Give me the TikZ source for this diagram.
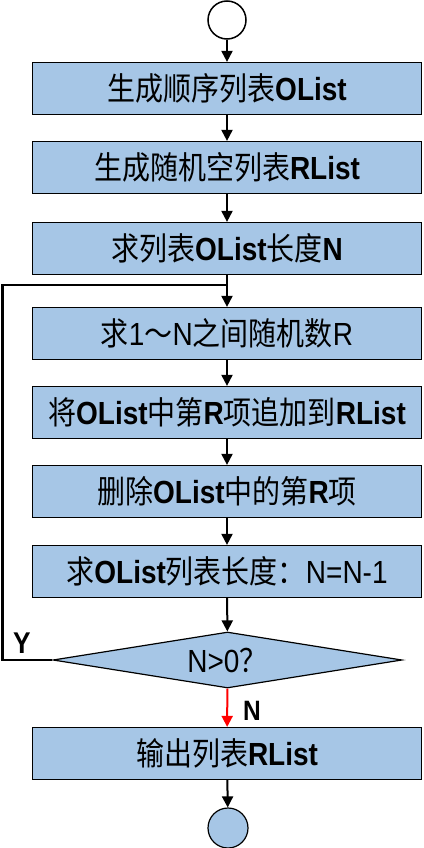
\documentclass[tikz,border=0pt]{standalone}
\usepackage{xcolor}
\usepackage{fontspec}
\setmainfont{Liberation Sans}[FakeStretch=0.875]
\newfontfamily\cjk{Noto Sans CJK SC}[FakeStretch=0.875]
\usepackage{tikz}
\usetikzlibrary{arrows.meta,shapes.geometric}

\definecolor{boxblue}{RGB}{166,198,230}
\newcommand{\zh}[1]{{\cjk #1}}

\begin{document}
\begin{tikzpicture}[x=1pt, y=-1pt,
  every node/.style={font=\fontsize{32}{36}\selectfont},
  stepbox/.style={draw=black, line width=1.2pt, fill=boxblue, minimum width=389pt, minimum height=52pt, inner sep=0pt},
  arrow/.style={line width=2pt, -{Triangle[length=11pt,width=11pt]}},
  loopline/.style={line width=2.5pt}]

\useasboundingbox (0,0) rectangle (423,848);

% Start and end circles
\node[circle, draw=black, line width=1.5pt, fill=white, minimum size=38pt, inner sep=0pt] (start) at (227,20) {};
\node[circle, draw=black, line width=1.2pt, fill=boxblue, minimum size=40pt, inner sep=0pt] (stop) at (228,828) {};

% The steps
\node[stepbox] (genolist) at (227,88.5) {\zh{生成顺序列表}\textbf{OList}};
\node[stepbox] (genrlist) at (227,167.5) {\zh{生成随机空列表}\textbf{RList}};
\node[stepbox] (getlen) at (227,248.5) {\zh{求列表}\textbf{OList}\zh{长度}\textbf{N}};
\node[stepbox] (randr) at (227,333.5) {\zh{求}1\zh{～}N\zh{之间随机数}R};
\node[stepbox] (append) at (227,412.5) {\zh{将}\textbf{OList}\zh{中第}\textbf{R}\zh{项追加到}\textbf{RList}};
\node[stepbox] (remove) at (227,491.5) {\zh{删除}\textbf{OList}\zh{中的第}\textbf{R}\zh{项}};
\node[stepbox] (newlen) at (227,571.5) {\zh{求}\textbf{OList}\zh{列表长度：}N=N-1};

% The test
\node[diamond, draw=black, line width=1.2pt, fill=boxblue, aspect=6.2, minimum width=349pt, minimum height=56pt, inner sep=0pt] (check) at (227.5,660) {N>0\zh{？}};

% The output
\node[stepbox] (output) at (227,753.5) {\zh{输出列表}\textbf{RList}};

% Connect the steps
\draw[arrow] (start) -- (genolist);
\draw[arrow] (genolist) -- (genrlist);
\draw[arrow] (genrlist) -- (getlen);
\draw[arrow] (getlen) -- (randr);
\draw[arrow] (randr) -- (append);
\draw[arrow] (append) -- (remove);
\draw[arrow] (remove) -- (newlen);
\draw[arrow] (newlen) -- (check);
\draw[arrow, red] (check) -- (output);
\draw[arrow] (output) -- (stop);

% The loop back
\coordinate (join) at (227,285);
\draw[loopline] (check.west) -- ++(-50,0) |- (join);

% Label the branches
\node[font=\fontsize{30}{34}\selectfont\bfseries] (ylab) at (22,643) {Y};
\node[font=\fontsize{28}{32}\selectfont\bfseries] (nlab) at (252,711) {N};

\end{tikzpicture}
\end{document}
